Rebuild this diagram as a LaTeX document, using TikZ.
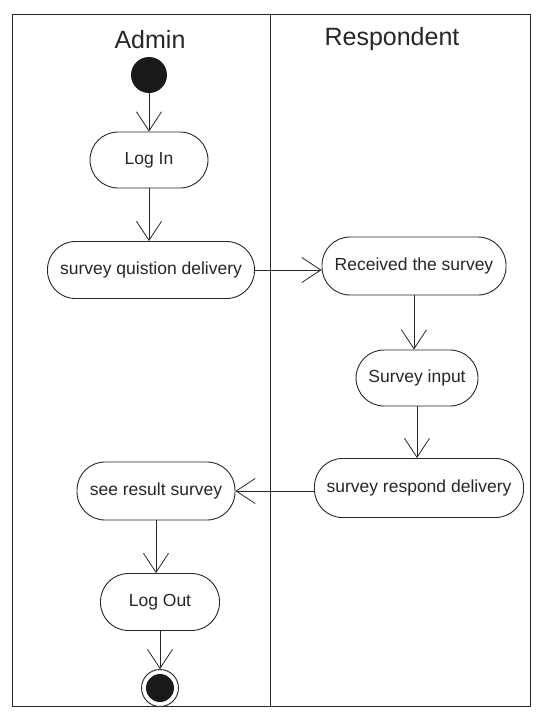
\documentclass[tikz,border=0pt]{standalone}
\usepackage{fontspec}
\setmainfont{Liberation Sans}
\usetikzlibrary{arrows.meta}

\begin{document}
\begin{tikzpicture}[x=1pt,y=-1pt,
  act/.style={draw=black!85, line width=0.9pt, rounded corners=28pt, minimum height=57pt,
    inner xsep=5pt, font=\fontsize{17.5}{21}\selectfont, text=black!85},
  flow/.style={draw=black!85, line width=0.8pt, -{Straight Barb[length=19pt,width=25pt,line width=0.8pt]}},
  lane/.style={font=\fontsize{25}{30}\selectfont, anchor=base, text=black!85}]

\useasboundingbox (0,0) rectangle (539,716);
\draw[line width=1pt, black!85] (12,14) rectangle (530,706);
\draw[line width=1pt, black!85] (270,14) -- (270,706);

\node[lane] (admin) at (150,48) {Admin};
\node[lane] (resp) at (392,45) {Respondent};

\node[circle, fill=black!90, minimum size=36pt, inner sep=0pt] (start) at (149,75) {};
\node[act, minimum width=118pt, minimum height=56pt] (login) at (149,160) {Log In};
\node[act, minimum width=207pt] (sqd) at (151,270) {survey quistion delivery};
\node[act, minimum width=184pt, minimum height=58pt] (recv) at (414,266) {Received the survey};
\node[act, minimum width=122pt, minimum height=56pt] (input) at (417,378) {Survey input};
\node[act, minimum width=209pt, minimum height=59pt] (srd) at (419,488) {survey respond delivery};
\node[act, minimum width=158pt, minimum height=58pt] (result) at (156,491) {see result survey};
\node[act, minimum width=119pt] (logout) at (160,602) {Log Out};
\node[circle, draw=black!85, line width=0.9pt, minimum size=37pt, inner sep=0pt] (fin) at (160,688) {};
\node[circle, fill=black!90, minimum size=28pt, inner sep=0pt] (fincore) at (fin) {};

\draw[flow] (start) -- (login);
\draw[flow] (login) -- (login |- sqd.north);
\draw[flow] (sqd) -- (recv.west |- sqd);
\draw[flow] (recv) -- (recv.south |- input.north);
\draw[flow] (input) -- (srd.north -| input);
\draw[flow] (srd.west |- result) -- (result);
\draw[flow] (result) -- (result |- logout.north);
\draw[flow] (logout) -- (fin);
\end{tikzpicture}
\end{document}
